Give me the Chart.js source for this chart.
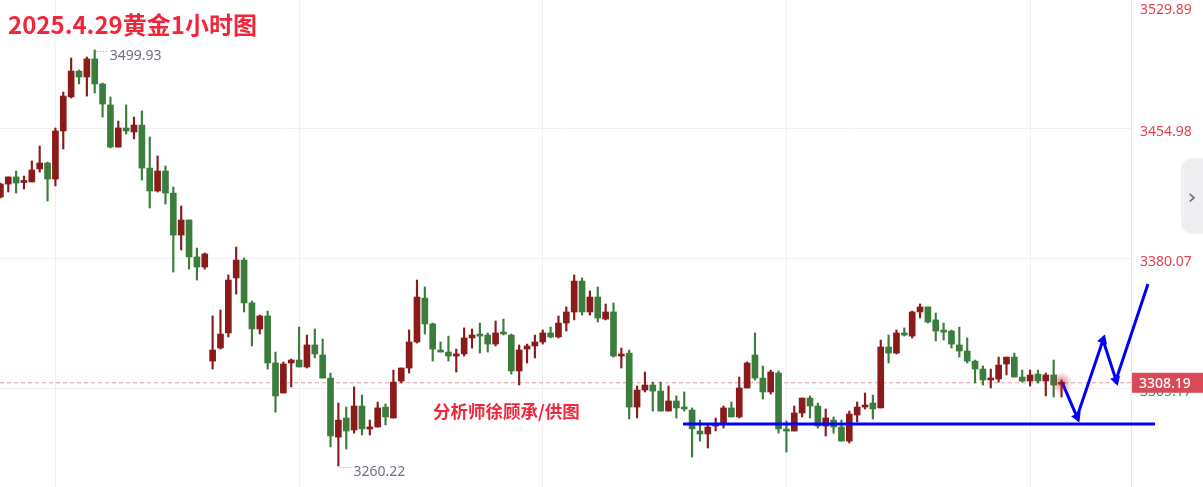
<!DOCTYPE html>
<html lang="zh-CN">
<head>
<meta charset="utf-8">
<title>2025.4.29黄金1小时图</title>
<script src="https://cdn.jsdelivr.net/npm/chart.js@4.4.1/dist/chart.umd.min.js"></script>
<style>
  html, body { margin: 0; padding: 0; background: #fff; }
  #wrap { position: relative; width: 1203px; height: 487px; overflow: hidden; }
  #chart { position: absolute; left: 0; top: 0; }
  .title {
    position: absolute; left: 8px; top: 6px; line-height: 1; white-space: nowrap;
    font: 700 24px "Noto Sans CJK SC", sans-serif; color: #f2263b;
  }
  .credit {
    position: absolute; left: 433px; top: 398px; line-height: 1; white-space: nowrap;
    font: 700 17.5px "Noto Sans CJK SC", sans-serif; color: #f2263b;
  }
  .tab {
    position: absolute; left: 1181px; top: 158px; width: 22px; height: 76px;
    background: #efeff2; border-radius: 12px 0 0 12px;
    font: 22px "DejaVu Sans", sans-serif; color: #6a6d78;
    display: flex; align-items: center; justify-content: center;
  }
</style>
</head>
<body>
<div id="wrap">
  <canvas id="chart" width="1203" height="487"></canvas>
  <div class="title">2025.4.29黄金1小时图</div>
  <div class="credit">分析师徐顾承/供图</div>
  <div class="tab">›</div>
</div>
<script>
"use strict";

/* ── 1h candles ── */
const opens = [
  3415.2, 3422.7, 3426.8, 3423.6, 3423.9, 3431.4, 3434.8, 3425.6, 3453.3, 3472.9,
  3487.8, 3484.4, 3494.8, 3480.4, 3468.3, 3444.0, 3455.0, 3452.7, 3456.7, 3431.9,
  3418.7, 3430.2, 3417.5, 3393.3, 3402.0, 3380.7, 3374.9, 3320.7, 3328.2, 3336.9,
  3368.6, 3378.9, 3354.2, 3339.2, 3346.7, 3319.6, 3302.3, 3319.6, 3321.3, 3317.3,
  3330.0, 3324.2, 3310.9, 3276.9, 3287.9, 3281.0, 3294.8, 3281.6, 3282.7, 3294.2,
  3287.9, 3309.2, 3316.7, 3331.7, 3357.0, 3342.1, 3326.5, 3325.9, 3323.6, 3324.8,
  3334.0, 3335.7, 3335.7, 3330.5, 3336.9, 3335.7, 3315.0, 3327.6, 3329.4, 3331.7,
  3336.9, 3334.6, 3342.6, 3349.0, 3366.8, 3349.0, 3357.6, 3344.9, 3349.0, 3323.6,
  3325.3, 3294.2, 3304.0, 3306.9, 3303.4, 3291.9, 3297.7, 3293.7, 3292.5, 3280.4,
  3278.7, 3283.3, 3284.4, 3293.7, 3288.5, 3305.2, 3324.2, 3310.9, 3302.9, 3313.8,
  3281.0, 3280.4, 3290.8, 3299.4, 3294.8, 3283.3, 3286.7, 3282.7, 3274.6, 3289.6,
  3294.2, 3296.5, 3293.7, 3328.8, 3325.3, 3336.9, 3335.1, 3349.0, 3351.9, 3344.4,
  3338.0, 3338.0, 3330.0, 3326.5, 3320.7, 3316.1, 3309.8, 3310.4, 3319.0, 3323.0,
  3311.5, 3309.2, 3313.2, 3309.2, 3312.7, 3307.3,
];
const highs = [
  3423.3, 3426.8, 3430.2, 3427.3, 3436.0, 3444.6, 3435.4, 3455.0, 3475.7, 3495.3,
  3488.4, 3495.9, 3499.93, 3480.9, 3472.9, 3459.0, 3468.3, 3461.3, 3464.8, 3449.8,
  3438.9, 3433.1, 3421.0, 3410.1, 3402.0, 3385.8, 3383.0, 3346.7, 3350.1, 3370.3,
  3386.4, 3380.1, 3355.3, 3347.2, 3349.5, 3325.9, 3320.2, 3321.9, 3340.3, 3335.7,
  3339.2, 3333.4, 3313.8, 3296.5, 3294.2, 3305.8, 3301.1, 3286.7, 3297.1, 3296.0,
  3315.5, 3316.7, 3338.6, 3367.4, 3363.4, 3342.6, 3331.7, 3335.1, 3327.6, 3339.8,
  3339.2, 3342.6, 3336.9, 3343.8, 3344.9, 3336.3, 3330.0, 3330.5, 3335.7, 3338.6,
  3340.3, 3346.7, 3351.9, 3370.3, 3368.6, 3361.1, 3363.4, 3353.6, 3354.2, 3328.2,
  3327.1, 3306.3, 3314.4, 3308.6, 3308.6, 3306.3, 3300.6, 3302.9, 3293.7, 3286.7,
  3284.4, 3287.9, 3294.8, 3297.1, 3311.5, 3320.2, 3336.9, 3317.9, 3315.5, 3315.0,
  3286.2, 3294.8, 3299.4, 3300.6, 3296.5, 3293.1, 3288.5, 3286.7, 3291.9, 3297.1,
  3302.3, 3301.1, 3332.8, 3335.7, 3338.6, 3339.8, 3349.5, 3353.6, 3351.9, 3348.4,
  3342.6, 3338.6, 3340.3, 3334.0, 3321.3, 3317.9, 3316.1, 3323.0, 3323.0, 3325.3,
  3315.5, 3315.5, 3315.5, 3313.8, 3321.3, 3309.8,
];
const lows = [
  3414.7, 3418.1, 3417.5, 3419.8, 3423.9, 3429.6, 3412.9, 3421.6, 3442.9, 3472.3,
  3480.4, 3473.4, 3475.2, 3461.3, 3443.5, 3444.0, 3451.5, 3448.7, 3425.0, 3408.9,
  3418.1, 3411.2, 3372.0, 3384.7, 3373.7, 3367.4, 3373.7, 3316.1, 3327.6, 3334.6,
  3359.3, 3349.0, 3329.4, 3336.3, 3316.1, 3291.3, 3302.3, 3305.8, 3317.3, 3316.7,
  3322.5, 3310.9, 3271.2, 3260.22, 3270.0, 3279.2, 3278.1, 3278.1, 3282.7, 3283.9,
  3287.9, 3308.1, 3313.8, 3331.1, 3336.3, 3320.7, 3325.9, 3320.7, 3314.4, 3323.6,
  3328.2, 3325.3, 3325.9, 3329.4, 3335.7, 3313.2, 3306.9, 3319.6, 3322.5, 3330.5,
  3334.0, 3334.0, 3338.0, 3344.4, 3347.2, 3347.2, 3343.2, 3344.4, 3323.0, 3316.7,
  3287.3, 3287.9, 3302.9, 3291.9, 3291.9, 3291.9, 3287.9, 3291.9, 3265.4, 3274.6,
  3270.6, 3280.4, 3282.1, 3288.5, 3287.9, 3305.2, 3309.8, 3298.8, 3301.7, 3279.2,
  3268.3, 3280.4, 3288.5, 3287.9, 3282.1, 3277.5, 3279.2, 3274.6, 3273.5, 3285.6,
  3293.1, 3287.3, 3293.7, 3319.6, 3324.8, 3335.1, 3334.0, 3345.5, 3342.6, 3332.3,
  3332.8, 3328.2, 3323.0, 3319.6, 3308.1, 3306.9, 3305.2, 3308.6, 3312.7, 3311.5,
  3308.6, 3306.3, 3308.1, 3300.6, 3300.0, 3300.0,
];
const closes = [
  3422.7, 3426.8, 3423.3, 3423.9, 3430.8, 3434.8, 3425.6, 3453.3, 3473.4, 3487.8,
  3484.4, 3494.8, 3480.4, 3468.8, 3444.0, 3455.0, 3453.3, 3456.7, 3431.9, 3418.7,
  3430.2, 3417.5, 3393.3, 3402.0, 3380.7, 3374.9, 3382.4, 3327.1, 3336.3, 3367.4,
  3378.9, 3354.2, 3339.2, 3346.7, 3319.6, 3300.6, 3319.0, 3321.3, 3317.3, 3330.0,
  3324.8, 3310.9, 3277.5, 3286.7, 3280.4, 3294.8, 3281.6, 3282.1, 3293.7, 3288.5,
  3308.6, 3316.7, 3331.7, 3357.6, 3342.1, 3327.6, 3325.9, 3323.6, 3324.8, 3334.0,
  3335.7, 3335.1, 3330.5, 3336.9, 3336.3, 3315.0, 3327.1, 3329.4, 3331.7, 3336.9,
  3334.6, 3342.6, 3349.0, 3366.8, 3349.0, 3357.6, 3345.5, 3349.0, 3323.6, 3324.2,
  3294.2, 3304.0, 3306.9, 3303.4, 3291.9, 3297.7, 3293.7, 3293.1, 3281.6, 3278.7,
  3282.7, 3284.4, 3293.7, 3288.5, 3305.2, 3319.6, 3310.9, 3302.9, 3314.4, 3281.6,
  3280.4, 3290.8, 3299.4, 3294.8, 3283.3, 3287.9, 3282.7, 3274.6, 3290.2, 3294.2,
  3295.4, 3293.1, 3328.8, 3325.3, 3336.9, 3335.7, 3349.0, 3351.9, 3343.2, 3338.0,
  3337.4, 3330.5, 3326.5, 3320.7, 3316.1, 3309.8, 3310.4, 3318.4, 3323.0, 3311.5,
  3309.2, 3312.7, 3309.2, 3312.7, 3306.9, 3308.19,
];

/* ── axis / annotation values ── */
const priceTicks = [3305.17, 3380.07, 3454.98, 3529.89];
const lastPrice = 3308.19;
const gridCandles = [7, 38, 69, 100, 131];
const xRange = [-0.05, 143.84];
const yRange = [3248.14, 3528.75];

// hand-drawn analyst marks (candle index, price)
const supportX = [86.85, 146.9];
const supportY = [3284.4, 3284.4];
const forecastX = [135.06, 136.97, 140.28, 141.93, 146.0];
const forecastY = [3308.6, 3288.5, 3332.8, 3309.8, 3365.1];

const UP = "#8b1a1a";
const DOWN = "#3b7d3d";
const BLUE = "#0000ff";

const isUp = (i) => closes[i] >= opens[i];
const candleColor = (c) => (isUp(c.dataIndex) ? UP : DOWN);

// arrow head turned along the incoming segment
function arrowAngle(c) {
  const i = c.dataIndex;
  const pts = c.dataset.data;
  if (i === 0) return 0;
  const sx = c.chart.scales.x;
  const sy = c.chart.scales.y;
  const dx = sx.getPixelForValue(pts[i].x) - sx.getPixelForValue(pts[i - 1].x);
  const dy = sy.getPixelForValue(pts[i].y) - sy.getPixelForValue(pts[i - 1].y);
  return (Math.atan2(dx, -dy) * 180) / Math.PI;
}

/* ── labels on the price axis, hi/lo marks, last-candle glow ── */
const overlayPlugin = {
  id: "overlay",
  afterDraw(chart) {
    const { ctx, chartArea } = chart;
    const sx = chart.scales.x;
    const sy = chart.scales.y;
    ctx.save();

    // pulse on the last candle
    const lx = sx.getPixelForValue(closes.length - 1);
    const ly = sy.getPixelForValue(lastPrice);
    const g = ctx.createRadialGradient(lx, ly, 0, lx, ly, 11);
    g.addColorStop(0, "rgba(185,30,30,0.55)");
    g.addColorStop(1, "rgba(185,30,30,0)");
    ctx.fillStyle = g;
    ctx.beginPath();
    ctx.arc(lx, ly, 11, 0, Math.PI * 2);
    ctx.fill();

    // highest high / lowest low
    ctx.font = "14px 'Noto Sans'";
    ctx.textBaseline = "middle";
    ctx.textAlign = "left";
    const hi = highs.indexOf(Math.max(...highs));
    const lo = lows.indexOf(Math.min(...lows));
    [[hi, highs[hi]], [lo, lows[lo]]].forEach(([i, v]) => {
      const px = sx.getPixelForValue(i);
      const py = sy.getPixelForValue(v);
      ctx.strokeStyle = "#8b909a";
      ctx.lineWidth = 1;
      ctx.setLineDash([1, 2]);
      ctx.beginPath();
      ctx.moveTo(px + 2, py + 1.5);
      ctx.lineTo(px + 14, py + 1.5);
      ctx.stroke();
      ctx.setLineDash([]);
      ctx.fillStyle = "#6d7380";
      ctx.fillText(v.toFixed(2), px + 15, py + 6);
    });

    // price axis labels
    ctx.font = "14px 'Noto Sans'";
    priceTicks.forEach((v) => {
      const py = Math.max(10, sy.getPixelForValue(v) + 4);
      ctx.fillStyle = v < lastPrice ? "#1f9e7a" : "#e2434f";
      ctx.fillText(v.toFixed(2), chartArea.right + 9, py);
    });

    // current price tag
    ctx.fillStyle = "#da4956";
    ctx.fillRect(chartArea.right + 1, ly - 10, chart.width - chartArea.right - 1, 20);
    ctx.fillStyle = "#ffffff";
    ctx.font = "500 14px 'Noto Sans'";
    ctx.fillText(lastPrice.toFixed(2), chartArea.right + 8, ly + 1);

    ctx.restore();
  },
};

const idx = closes.map((_, i) => i);

new Chart(document.getElementById("chart"), {
  type: "bar",
  data: {
    datasets: [
      {
        label: "support",
        type: "line",
        data: supportX.map((x, i) => ({ x, y: supportY[i] })),
        borderColor: BLUE,
        borderWidth: 3,
        pointStyle: "triangle",
        pointRadius: (c) => (c.dataIndex === 0 ? 0 : 6),
        pointRotation: arrowAngle,
        pointBackgroundColor: BLUE,
        pointBorderWidth: 0,
        clip: false,
        order: 0,
      },
      {
        label: "forecast",
        type: "line",
        data: forecastX.map((x, i) => ({ x, y: forecastY[i] })),
        borderColor: BLUE,
        borderWidth: 3,
        pointStyle: "triangle",
        pointRadius: (c) => (c.dataIndex === 0 ? 0 : 6),
        pointRotation: arrowAngle,
        pointBackgroundColor: BLUE,
        pointBorderWidth: 0,
        clip: false,
        order: 0,
      },
      {
        label: "bodies",
        data: idx.map((i) => ({ x: i, y: [opens[i], closes[i]] })),
        backgroundColor: candleColor,
        barThickness: 6,
        minBarLength: 2,
        grouped: false,
        order: 1,
      },
      {
        label: "wicks",
        data: idx.map((i) => ({ x: i, y: [lows[i], highs[i]] })),
        backgroundColor: candleColor,
        barThickness: 1.5,
        grouped: false,
        order: 2,
      },
      {
        label: "last",
        type: "line",
        data: [
          { x: xRange[0], y: lastPrice },
          { x: xRange[1], y: lastPrice },
        ],
        borderColor: "rgba(222,120,120,0.75)",
        borderWidth: 1,
        borderDash: [4, 3],
        pointRadius: 0,
        order: 3,
      },
    ],
  },
  options: {
    responsive: false,
    animation: false,
    layout: { autoPadding: false, padding: { top: 0, left: 0, bottom: 0, right: 72 } },
    plugins: { legend: { display: false }, tooltip: { enabled: false } },
    scales: {
      x: {
        type: "linear",
        min: xRange[0],
        max: xRange[1],
        offset: false,
        afterBuildTicks: (axis) => {
          axis.ticks = gridCandles.map((v) => ({ value: v }));
        },
        ticks: { display: false },
        grid: { color: "#f0f0f3", drawTicks: false, offset: false },
        border: { display: false },
      },
      y: {
        position: "right",
        min: yRange[0],
        max: yRange[1],
        afterBuildTicks: (axis) => {
          axis.ticks = priceTicks.map((v) => ({ value: v }));
        },
        ticks: { display: false },
        grid: { color: "#f0f0f3", drawTicks: false },
        border: { display: true, color: "#e6e6ec" },
      },
    },
  },
  plugins: [overlayPlugin],
});
</script>
</body>
</html>
